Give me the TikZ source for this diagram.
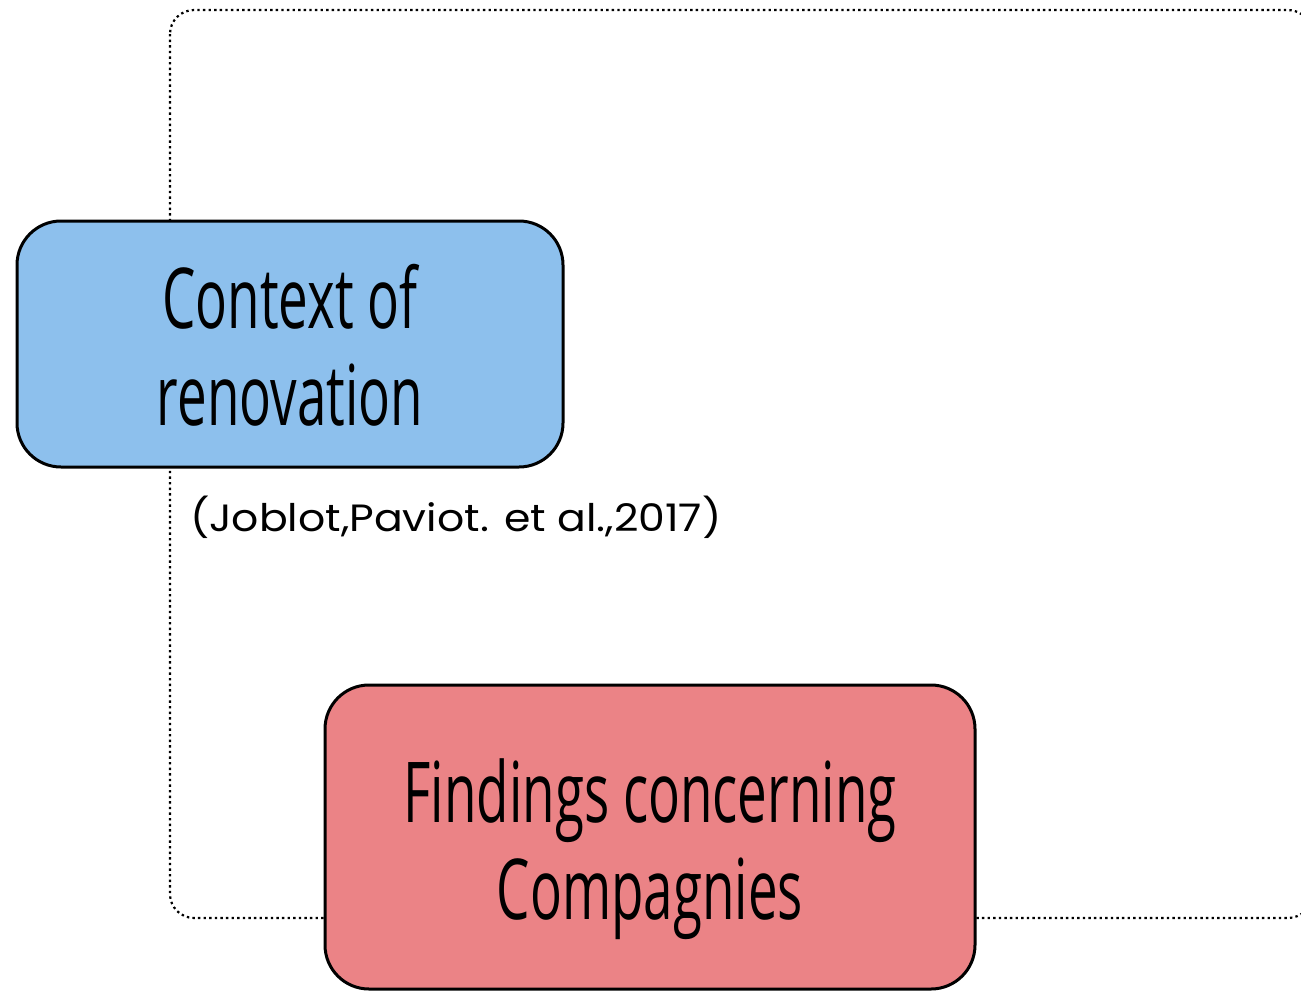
\documentclass[tikz,border=0pt]{standalone}
\usepackage{fontspec}
\usetikzlibrary{positioning}
\newfontfamily\boxfont[FakeStretch=0.63]{Open Sans}
\newfontfamily\citefont[FakeStretch=1.12]{Poppins}
\definecolor{ctxblue}{RGB}{141,192,237}
\definecolor{findred}{RGB}{235,131,134}
\newcommand{\boxtext}[3]{\raisebox{#1}[\height][\depth]{\begin{tabular}{@{}c@{}}#2\\#3\end{tabular}}}

\begin{document}
\begin{tikzpicture}[x=0.5pt, y=-0.5pt,
        topic/.style={draw, line width=1.5pt, rounded corners=22pt, align=center,
                font=\boxfont\fontsize{42}{48.5}\selectfont, inner sep=0pt},
        frame/.style={line width=1.1pt, dash pattern=on 1.2pt off 1.6pt, rounded corners=12pt}]
        \useasboundingbox (0,0) rectangle (1301,991);
        \draw[frame] (170,10) rectangle (1312,918);
        \node[topic, fill=ctxblue, minimum width=273pt, minimum height=123pt] (ctx) at (290,344) {\boxtext{-7pt}{Context of}{renovation}};
        \node[font=\citefont\fontsize{19}{21}\selectfont, anchor=west] (cite) at (183,517) {(Joblot,Paviot. et al.,2017)};
        \node[topic, fill=findred, minimum width=325pt, minimum height=152pt] (find) at (650,837) {\boxtext{-7.5pt}{Findings concerning}{Compagnies}};
\end{tikzpicture}
\end{document}
